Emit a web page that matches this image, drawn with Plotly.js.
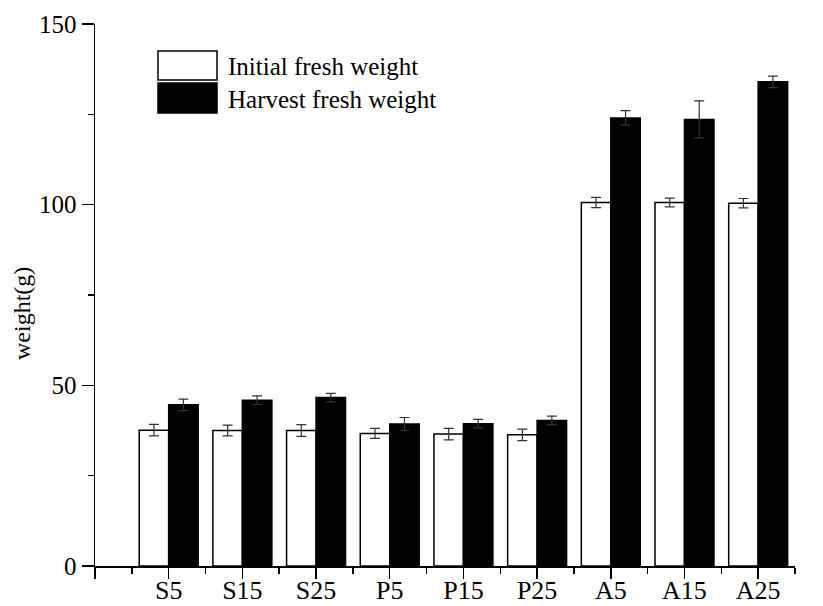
<!DOCTYPE html>
<html>
<head>
<meta charset="utf-8">
<script src="https://cdn.plot.ly/plotly-3.0.1.min.js"></script>
<style>html,body{margin:0;padding:0;background:#fff;}#chart{width:823px;height:606px;}</style>
</head>
<body>
<div id="chart"></div>
<script>
const categories = ["S5","S15","S25","P5","P15","P25","A5","A15","A25"];
const initialWeight = [37.6, 37.5, 37.5, 36.7, 36.5, 36.3, 100.6, 100.6, 100.4];
const initialErr    = [1.6, 1.5, 1.6, 1.4, 1.6, 1.6, 1.4, 1.2, 1.3];
const harvestWeight = [44.6, 45.9, 46.6, 39.3, 39.4, 40.3, 124.0, 123.6, 134.0];
const harvestErr    = [1.6, 1.2, 1.2, 1.8, 1.2, 1.2, 2.0, 5.1, 1.6];
const seriesNames = ["Initial fresh weight", "Harvest fresh weight"];
const yTicks = [0, 50, 100, 150];
const yMinorTicks = [25, 75, 125];

const xPos = categories.map((c, i) => i);
const font = "Liberation Serif, Times New Roman, serif";

const traces = [
  {
    type: "bar", name: seriesNames[0], x: xPos, y: initialWeight,
    marker: {color: "#ffffff", line: {color: "#000000", width: 1.5}},
    error_y: {type: "data", array: initialErr, visible: true, color: "#333333", thickness: 1.2, width: 5},
    showlegend: false
  },
  {
    type: "bar", name: seriesNames[1], x: xPos, y: harvestWeight,
    marker: {color: "#000000", line: {color: "#000000", width: 1.5}},
    error_y: {type: "data", array: harvestErr, visible: true, color: "#333333", thickness: 1.2, width: 5},
    showlegend: false
  }
];

const majorX = [-1].concat(xPos);
const minorX = [-0.5].concat(xPos.map(v => v + 0.5));

const layout = {
  width: 823, height: 606,
  margin: {l: 95, r: 28, t: 24, b: 40},
  paper_bgcolor: "#ffffff", plot_bgcolor: "#ffffff",
  barmode: "group", bargap: 0.2, bargroupgap: 0,
  font: {family: font, size: 24, color: "#000000"},
  xaxis: {
    range: [-1, 8.5], showgrid: false, zeroline: false,
    showline: true, linecolor: "#000000", linewidth: 1.5,
    tickmode: "array", tickvals: majorX, ticktext: [""].concat(categories),
    ticks: "outside", ticklen: 11, tickwidth: 1.5, tickcolor: "#000000",
    ticklabelstandoff: -11,
    tickfont: {family: font, size: 26, color: "#000000"},
    minor: {tickmode: "array", tickvals: minorX, ticks: "outside", ticklen: 6, tickwidth: 1.5, tickcolor: "#000000", showgrid: false}
  },
  yaxis: {
    range: [0, 150], showgrid: false, zeroline: false,
    showline: true, linecolor: "#000000", linewidth: 1.5,
    tickmode: "array", tickvals: yTicks,
    ticks: "outside", ticklen: 12, tickwidth: 1.5, tickcolor: "#000000",
    tickfont: {family: font, size: 25, color: "#000000"},
    minor: {tickmode: "array", tickvals: yMinorTicks, ticks: "outside", ticklen: 6, tickwidth: 1.5, tickcolor: "#000000", showgrid: false}
  },
  shapes: [
    {type: "rect", xref: "paper", yref: "paper", x0: 63/700, x1: 122/700, y0: 1 - 56/542, y1: 1 - 27/542,
     fillcolor: "#ffffff", line: {color: "#000000", width: 1.5}},
    {type: "rect", xref: "paper", yref: "paper", x0: 63/700, x1: 122/700, y0: 1 - 89/542, y1: 1 - 59/542,
     fillcolor: "#000000", line: {color: "#000000", width: 1.5}}
  ],
  annotations: [
    {text: seriesNames[0], xref: "paper", yref: "paper", x: 131/700, y: 1 - 42/542, xanchor: "left", yanchor: "middle",
     showarrow: false, font: {family: font, size: 25, color: "#000000"}},
    {text: seriesNames[1], xref: "paper", yref: "paper", x: 131/700, y: 1 - 75/542, xanchor: "left", yanchor: "middle",
     showarrow: false, font: {family: font, size: 25, color: "#000000"}},
    {text: "weight(g)", xref: "paper", yref: "paper", x: -73/700, y: 1 - 290/542, xanchor: "center", yanchor: "middle",
     textangle: -90, showarrow: false, font: {family: font, size: 24, color: "#000000"}}
  ]
};

Plotly.newPlot("chart", traces, layout, {displayModeBar: false, staticPlot: true});
</script>
</body>
</html>
